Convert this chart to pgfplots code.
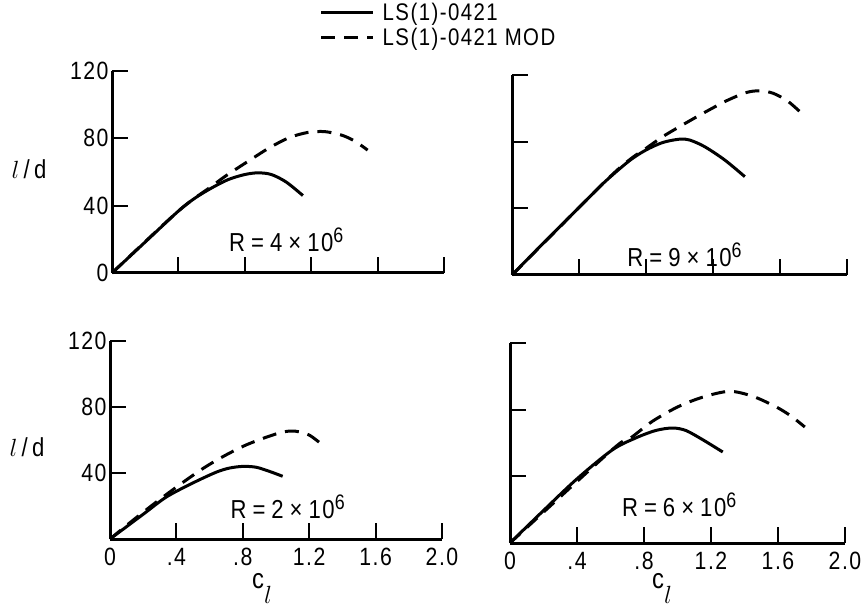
\documentclass[border=0pt]{standalone}
\usepackage{pgfplots}
\pgfplotsset{compat=1.18}
\usepackage{fontspec}
\setmainfont{Liberation Sans}[FakeStretch=0.85, LetterSpace=6]
\begin{document}
\begin{tikzpicture}
\path[use as bounding box] (0pt,0pt) rectangle (866pt,611pt);
\pgfplotsset{
 panel/.style={scale only axis, axis lines=left, axis line style={-, line width=3pt},
   xmin=0, xmax=2, ymin=0, ymax=120,
   xtick={0,0.4,0.8,1.2,1.6,2.0}, ytick={0,40,80,120},
   tick align=inside, major tick length=16pt, tick style={line width=2pt, black},
   clip=false, anchor=south west,
   tick label style={font=\fontsize{25}{28}\selectfont},
   xticklabel style={yshift=-6pt},
   xticklabels={,,,,,}, yticklabels={,,,}},
 xl/.style={xticklabels={0,.4,.8,1.2,1.6,2.0}},
 yl/.style={yticklabels={0,40,80,120}},
 sol/.style={black, line width=3pt, smooth, tension=0.5},
 das/.style={black, line width=3pt, smooth, tension=0.5, dash pattern=on 14pt off 9pt},
}
\newcommand{\rlab}[1]{\fontsize{26}{28}\selectfont R\hspace{6pt}=\hspace{6pt}#1\hspace{6pt}×\hspace{6pt}10\raisebox{9pt}{\fontsize{21}{22}\selectfont 6}}

% top left, R = 4e6
\begin{axis}[panel, yl, at={(112pt,338pt)}, width=332pt, height=202pt,
  legend style={at={(0.625,1.345)}, anchor=north west, draw=none, fill=none, inner sep=0pt,
    row sep=2pt, font=\fontsize{24}{26}\selectfont, cells={anchor=west}},
  legend image code/.code={\draw[#1, tension=0.5] (0pt,0pt) -- (52pt,0pt); \path (58pt,0pt);}]
\addplot[sol] coordinates {(0,0) (0.2,18.4) (0.4,36.8) (0.5,44.5) (0.6,50.5) (0.7,55.5) (0.8,58.5) (0.88,59.5) (0.96,58.5) (1.05,54) (1.15,46)};
\addplot[das] coordinates {(0,0) (0.4,36.8) (0.6,51.5) (0.69,58) (0.83,67) (0.95,74.5) (1.07,80.5) (1.18,83.5) (1.28,84) (1.38,82) (1.46,78.5) (1.54,73)};
\legend{LS(1)-0421, LS(1)-0421 MOD}
\node at (axis cs:1.05,19.6) {\rlab{4}};
\end{axis}

% top right, R = 9e6
\begin{axis}[panel, at={(512pt,336pt)}, width=335pt, height=200pt]
\addplot[sol] coordinates {(0,0) (0.2,20.4) (0.4,40.5) (0.55,55.5) (0.7,68.5) (0.8,75) (0.9,79.5) (1.0,81.5) (1.06,81) (1.15,77) (1.27,69) (1.39,59)};
\addplot[das] coordinates {(0,0) (0.55,55.5) (0.7,69) (0.8,76) (0.9,83) (1.0,89) (1.14,97) (1.28,104.5) (1.4,109.5) (1.48,110.5) (1.56,109) (1.65,104) (1.74,96)};
\node at (axis cs:1.03,12) {\rlab{9}};
\end{axis}

% bottom left, R = 2e6
\begin{axis}[panel, xl, yticklabels={,40,80,120}, at={(110pt,72pt)}, width=332pt, height=198pt]
\addplot[sol] coordinates {(0,0) (0.2,15) (0.34,25.5) (0.5,34) (0.64,40.5) (0.72,43) (0.8,44) (0.88,43.5) (0.96,41) (1.04,38)};
\addplot[das] coordinates {(0,0) (0.14,11.5) (0.3,24) (0.46,35.8) (0.58,44) (0.7,51) (0.82,57) (0.95,62) (1.05,65) (1.12,65.3) (1.2,63) (1.28,57)};
\node at (axis cs:1.07,19.4) {\rlab{2}};
\end{axis}

% bottom right, R = 6e6
\begin{axis}[panel, xl, at={(510pt,68pt)}, width=335pt, height=200pt]
\addplot[sol] coordinates {(0,0) (0.2,19.5) (0.4,38.5) (0.61,55.8) (0.75,63) (0.87,67.5) (0.97,69) (1.05,67.5) (1.15,62) (1.27,54.6)};
\addplot[das] coordinates {(0,0) (0.61,56) (0.72,63) (0.85,73) (1.0,81.6) (1.15,87.5) (1.31,91) (1.45,88) (1.59,81.6) (1.68,76) (1.76,69.6)};
\node at (axis cs:1.01,22.8) {\rlab{6}};
\end{axis}

\node[font=\fontsize{26}{28}\selectfont] at (29pt,442pt) {$l$\,/\,d};
\node[font=\fontsize{26}{28}\selectfont] at (27pt,164pt) {$l$\,/\,d};
\node[font=\fontsize{28}{30}\selectfont, anchor=base west, inner sep=0pt] at (252pt,23pt) {c\raisebox{-15pt}{$l$}};
\node[font=\fontsize{28}{30}\selectfont, anchor=base west, inner sep=0pt] at (652pt,23pt) {c\raisebox{-15pt}{$l$}};
\end{tikzpicture}
\end{document}
